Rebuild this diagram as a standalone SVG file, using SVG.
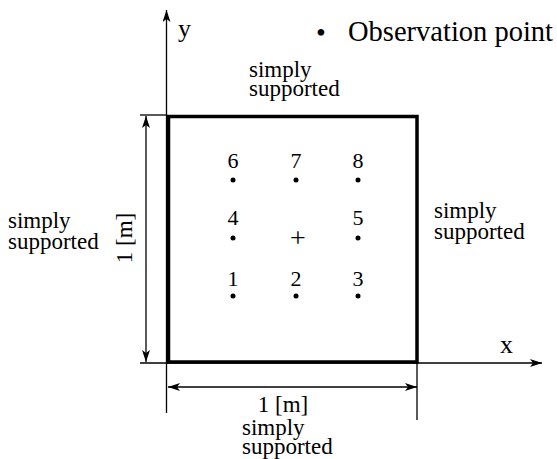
<svg xmlns="http://www.w3.org/2000/svg" width="557" height="459" viewBox="0 0 557 459">
<style>
.t{font-family:"Liberation Serif","Times New Roman",serif;fill:#000}
.lbl{font-size:23px}
.num{font-size:22px;text-anchor:middle}
.ln{stroke:#000;stroke-width:1.3;fill:none}
.pt{fill:#000}
</style>
<defs>
<marker id="ah" viewBox="0 0 12 8" refX="12" refY="4" markerWidth="12" markerHeight="8" markerUnits="userSpaceOnUse" orient="auto-start-reverse">
<path d="M0,0 L12,4 L0,8 L3,4 Z" fill="#000"/>
</marker>
</defs>
<g id="connectors">
<line class="ln" x1="166.5" y1="413" x2="166.5" y2="10" marker-end="url(#ah)"/>
<line class="ln" x1="140" y1="363" x2="542" y2="363" marker-end="url(#ah)"/>
<line class="ln" x1="140" y1="115" x2="167" y2="115"/>
<line class="ln" x1="417" y1="362" x2="417" y2="420"/>
<line class="ln" x1="146" y1="116" x2="146" y2="362" marker-start="url(#ah)" marker-end="url(#ah)"/>
<line class="ln" x1="168" y1="387" x2="417" y2="387" marker-start="url(#ah)" marker-end="url(#ah)"/>
</g>
<g id="plate">
<rect x="168.5" y="116.5" width="248.5" height="245.5" fill="none" stroke="#000" stroke-width="3.5"/>
</g>
<g id="labels">
<text x="178" y="37" class="t" style="font-size:26px">y</text>
<text x="500" y="353" class="t" style="font-size:26px">x</text>
<text x="316" y="42" class="t" style="font-size:28px">•</text>
<text x="348" y="41" class="t" style="font-size:28.5px">Observation point</text>
<text x="249" y="77" class="t lbl">simply</text>
<text x="249" y="96" class="t lbl">supported</text>
<text x="8" y="228" class="t lbl">simply</text>
<text x="8" y="249" class="t lbl">supported</text>
<text x="434" y="218" class="t lbl">simply</text>
<text x="434" y="239" class="t lbl">supported</text>
<text x="242" y="435" class="t lbl">simply</text>
<text x="242" y="454" class="t lbl">supported</text>
<text x="283" y="412" class="t" style="font-size:23px;text-anchor:middle">1 [m]</text>
<text transform="translate(132,238) rotate(-90)" class="t" style="font-size:23px;text-anchor:middle">1 [m]</text>
</g>
<g id="points">
<text x="233" y="168" class="t num">6</text><circle class="pt" cx="233" cy="180" r="2.5"/>
<text x="296" y="168" class="t num">7</text><circle class="pt" cx="296" cy="180" r="2.5"/>
<text x="358" y="168" class="t num">8</text><circle class="pt" cx="358" cy="180" r="2.5"/>
<text x="233" y="225" class="t num">4</text><circle class="pt" cx="233" cy="238" r="2.5"/>
<text x="298" y="247" class="t" style="font-size:28px;text-anchor:middle">+</text>
<text x="358" y="225" class="t num">5</text><circle class="pt" cx="358" cy="238" r="2.5"/>
<text x="233" y="286" class="t num">1</text><circle class="pt" cx="233" cy="296" r="2.5"/>
<text x="296" y="286" class="t num">2</text><circle class="pt" cx="296" cy="296" r="2.5"/>
<text x="358" y="286" class="t num">3</text><circle class="pt" cx="358" cy="296" r="2.5"/>
</g>
</svg>
